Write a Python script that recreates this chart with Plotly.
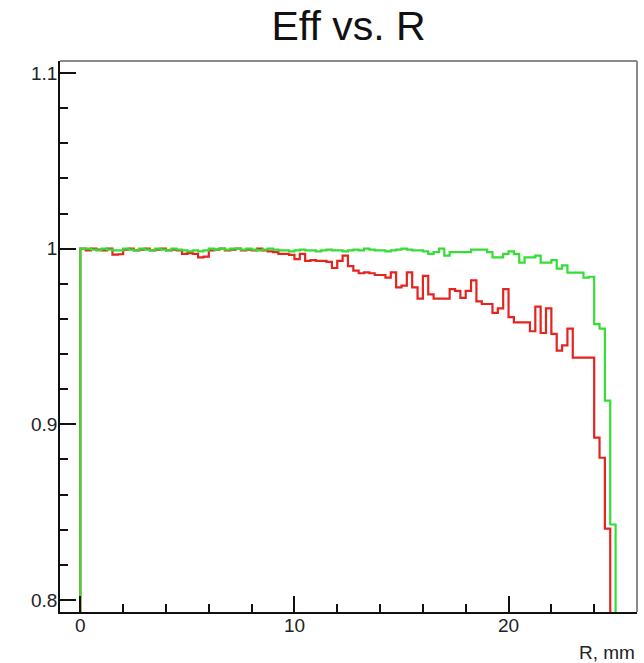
import numpy as np
import plotly.graph_objects as go

# Histogram binning: 100 bins of 0.25 mm between 0 and 25 mm
R_MIN, R_MAX, N_BINS = 0.0, 25.0, 100

# Efficiency per radial bin
eff_red = [
    1.0, 0.999, 1.0, 0.9995, 0.999, 1.0, 0.9966, 0.9968, 0.9995, 1.0,
    0.999, 0.9995, 1.0, 0.999, 0.9995, 1.0, 0.999, 0.9995, 0.999, 0.997,
    0.9975, 0.997, 0.995, 0.9955, 0.999, 0.9995, 1.0, 0.999, 0.9995, 1.0,
    0.999, 0.9995, 0.999, 1.0, 0.999, 0.9985, 0.998, 0.997, 0.997, 0.9965,
    0.994, 0.997, 0.993, 0.9935, 0.993, 0.993, 0.9925, 0.989, 0.993, 0.996,
    0.990, 0.9875, 0.986, 0.9865, 0.986, 0.985, 0.985, 0.9835, 0.9865, 0.978,
    0.979, 0.9865, 0.978, 0.9715, 0.9845, 0.974, 0.9715, 0.9715, 0.9715, 0.977,
    0.976, 0.972, 0.976, 0.982, 0.970, 0.9685, 0.9685, 0.9635, 0.966, 0.977,
    0.961, 0.958, 0.958, 0.958, 0.953, 0.967, 0.952, 0.966, 0.9515, 0.942,
    0.945, 0.9545, 0.938, 0.938, 0.938, 0.938, 0.8924, 0.881, 0.8406, 0.0,
]

eff_green = [
    1.0, 1.0, 0.9995, 0.999, 1.0, 0.9995, 0.999, 0.999, 1.0, 0.9995,
    0.999, 1.0, 0.9995, 0.999, 1.0, 0.9995, 0.999, 1.0, 0.9995, 0.999,
    0.9985, 0.999, 0.9985, 0.999, 1.0, 0.9995, 1.0, 0.9995, 1.0, 1.0,
    0.9995, 1.0, 0.9995, 0.999, 0.9995, 1.0, 0.9995, 0.999, 0.999, 0.9985,
    0.999, 0.9995, 0.999, 0.999, 0.9985, 0.999, 0.9995, 0.999, 0.999, 0.9985,
    0.999, 0.9995, 0.999, 1.0, 0.9995, 0.999, 0.999, 0.9985, 0.999, 0.9995,
    1.0, 0.9995, 0.999, 0.999, 0.9985, 0.997, 0.998, 1.0, 0.996, 0.998,
    0.998, 0.998, 0.998, 0.9994, 0.9994, 0.9994, 0.998, 0.995, 0.995, 0.997,
    0.9985, 0.997, 0.992, 0.995, 0.995, 0.996, 0.992, 0.992, 0.9935, 0.9886,
    0.9905, 0.9864, 0.9864, 0.9864, 0.9835, 0.984, 0.957, 0.9545, 0.9135, 0.843,
]

TITLE = "Eff vs. R"
X_TITLE = "R, mm"

FONT = "Liberation Sans, Arial, Helvetica, sans-serif"
edges = np.linspace(R_MIN, R_MAX, N_BINS + 1)


def hist_outline(values):
    """Step outline of a histogram, rising from zero at the first edge
    and returning to zero at the last edge (ROOT 'HIST' style)."""
    xs = [edges[0]] + list(edges[:-1]) + [edges[-1], edges[-1]]
    ys = [0.0] + list(values) + [values[-1], 0.0]
    return xs, ys


fig = go.Figure()
for vals, color in ((eff_red, "#e5231f"), (eff_green, "#36dd36")):
    xs, ys = hist_outline(vals)
    fig.add_trace(go.Scatter(
        x=xs, y=ys, mode="lines",
        line=dict(color=color, width=2.2, shape="hv"),
        showlegend=False, hoverinfo="skip",
    ))

axis_common = dict(
    showgrid=False, zeroline=False,
    showline=True, linecolor="#111", linewidth=1.5,
    ticks="inside", tickcolor="#111", tickwidth=1.5, ticklen=16,
    tickfont=dict(family=FONT, size=19, color="#222"),
)

fig.update_xaxes(
    range=[-0.95, 26.0], tickmode="linear", tick0=0, dtick=10,
    ticklabelstandoff=-5,
    minor=dict(ticks="inside", dtick=2, tick0=0, ticklen=8,
               tickcolor="#111", tickwidth=1.5),
    **axis_common,
)
fig.update_yaxes(
    range=[0.7932, 1.1068], tickmode="linear", tick0=0.8, dtick=0.1,
    ticklabelstandoff=-3,
    minor=dict(ticks="inside", dtick=0.02, tick0=0.8, ticklen=8,
               tickcolor="#111", tickwidth=1.5),
    **axis_common,
)

# Frame: top and right borders
fig.add_shape(type="line", xref="paper", yref="paper", x0=0, x1=1, y0=1, y1=1,
              line=dict(color="#8a8a8a", width=2))
fig.add_shape(type="line", xref="paper", yref="paper", x0=1, x1=1, y0=0, y1=1,
              line=dict(color="#8a8a8a", width=2))

fig.add_annotation(
    text=X_TITLE, xref="paper", yref="paper", x=1.0, y=-0.073,
    xanchor="right", yanchor="middle", showarrow=False,
    font=dict(family=FONT, size=19, color="#222"),
)

fig.update_layout(
    width=644, height=663,
    margin=dict(l=60, r=7, t=61, b=51),
    paper_bgcolor="white", plot_bgcolor="white",
    title=dict(text=TITLE, x=0.5, xref="paper", xanchor="center",
               y=1 - 26 / 663, yref="container", yanchor="middle",
               font=dict(family=FONT, size=41, color="#111")),
)

fig.write_html("out.html")
